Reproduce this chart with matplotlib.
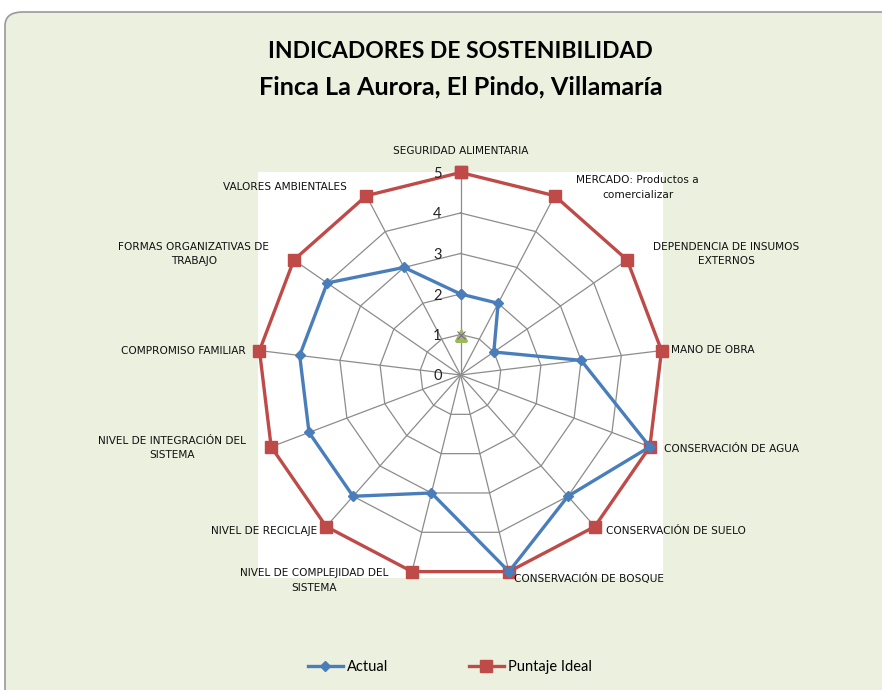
import numpy as np
import matplotlib
matplotlib.use("Agg")
import matplotlib.pyplot as plt
from matplotlib.patches import FancyBboxPatch, Rectangle

# data
categories = [
    "SEGURIDAD ALIMENTARIA",
    "MERCADO: Productos a\ncomercializar",
    "DEPENDENCIA DE INSUMOS\nEXTERNOS",
    "MANO DE OBRA",
    "CONSERVACIÓN DE AGUA",
    "CONSERVACIÓN DE SUELO",
    "CONSERVACIÓN DE BOSQUE",
    "NIVEL DE COMPLEJIDAD DEL\nSISTEMA",
    "NIVEL DE RECICLAJE",
    "NIVEL DE INTEGRACIÓN DEL\nSISTEMA",
    "COMPROMISO FAMILIAR",
    "FORMAS ORGANIZATIVAS DE\nTRABAJO",
    "VALORES AMBIENTALES",
]
actual = [2, 2, 1, 3, 5, 4, 5, 3, 4, 4, 4, 4, 3]
ideal = [5, 5, 5, 5, 5, 5, 5, 5, 5, 5, 5, 5, 5]
extra_value = [1]  # stray point on the first axis
r_ticks = [0, 1, 2, 3, 4, 5]

# label placement (pixel offsets from the outer vertex) and alignment
label_offsets = [(0, 21), (83, 8), (99, 6), (9, 1), (14, -2), (11, -4), (5, -7),
                 (-98, -9), (-9, -4), (-99, -1), (-14, 0), (-100, 6), (-81, 9)]
label_ha = ["center", "center", "center", "left", "left", "left", "left",
            "center", "right", "center", "right", "center", "center"]

blue = "#4A7EBB"
red = "#BE4B48"
bg = "#EBF0DF"
grid_c = "#8C8C8C"

plt.rcParams["font.family"] = ["Lato", "DejaVu Sans"]

fig = plt.figure(figsize=(8.82, 6.9), dpi=100)
fig.patch.set_facecolor("white")

# rounded chart area
fig.patches.append(FancyBboxPatch((5 / 882, -0.05), 1.05, 1 - 12 / 690 + 0.05,
                                  boxstyle="round,pad=0,rounding_size=0.02",
                                  transform=fig.transFigure, facecolor=bg,
                                  edgecolor="#9a9a9a", linewidth=1.2, zorder=-2))
# white plot area
ax_left, ax_bottom = 258 / 882, 1 - 578 / 690
ax_w, ax_h = 405 / 882, 406 / 690
fig.patches.append(Rectangle((ax_left, ax_bottom), ax_w, ax_h, transform=fig.transFigure,
                             facecolor="white", edgecolor="none", zorder=-1))

ax = fig.add_axes([ax_left, ax_bottom, ax_w, ax_h], projection="polar")
ax.set_zorder(1)
ax.set_facecolor("none")
ax.set_theta_zero_location("N")
ax.set_theta_direction(-1)
ax.set_ylim(0, 5)
ax.grid(False)
ax.spines["polar"].set_visible(False)
ax.set_xticks([])
ax.set_yticks([])

n = len(categories)
theta = np.linspace(0, 2 * np.pi, n, endpoint=False)
theta_c = np.append(theta, theta[0])

# polygon grid and spokes
for r in r_ticks[1:]:
    ax.plot(theta_c, [r] * (n + 1), color=grid_c, lw=0.9, zorder=1, clip_on=False)
for t in theta:
    ax.plot([t, t], [0, 5], color=grid_c, lw=0.9, zorder=1)

ax.plot(theta_c, ideal + ideal[:1], color=red, lw=2.4, marker="s", ms=9,
        label="Puntaje Ideal", zorder=3, clip_on=False)
ax.plot(theta_c, actual + actual[:1], color=blue, lw=2.4, marker="D", ms=5.5,
        label="Actual", zorder=4, clip_on=False)
ax.plot(theta[:1], extra_value, ls="none", marker="^", color="#9BBB59", ms=8, zorder=5)
ax.plot(theta[:1], extra_value, ls="none", marker="x", color="#8064A2", ms=6, mew=0.8, zorder=6)

# radial tick labels
for r in r_ticks:
    ax.annotate(str(r), (0, r), xytext=(-23, 0), textcoords="offset pixels",
                ha="center", va="center_baseline", fontsize=10.5, color="#222222")

# category labels
for t, lab, off, ha in zip(theta, categories, label_offsets, label_ha):
    ax.annotate(lab, (t, 5), xytext=off, textcoords="offset pixels", ha=ha,
                va="center", multialignment="center", fontsize=7.6,
                family="DejaVu Sans", linespacing=1.55, color="#111111",
                annotation_clip=False)

fig.text(0.522, 1 - 52 / 690, "INDICADORES DE SOSTENIBILIDAD", ha="center", va="center",
         fontsize=16.5, fontweight="bold")
fig.text(0.522, 1 - 87 / 690, "Finca La Aurora, El Pindo, Villamaría", ha="center",
         va="center", fontsize=18.2, fontweight="bold")

handles, labels = ax.get_legend_handles_labels()
fig.legend(handles[::-1], labels[::-1], loc="center", bbox_to_anchor=(0.51, 1 - 667 / 690),
           ncol=2, frameon=False, fontsize=10.5, columnspacing=5.5, handlelength=2.4,
           handletextpad=0.3)

fig.savefig("out.png", dpi=100, facecolor=fig.get_facecolor())
